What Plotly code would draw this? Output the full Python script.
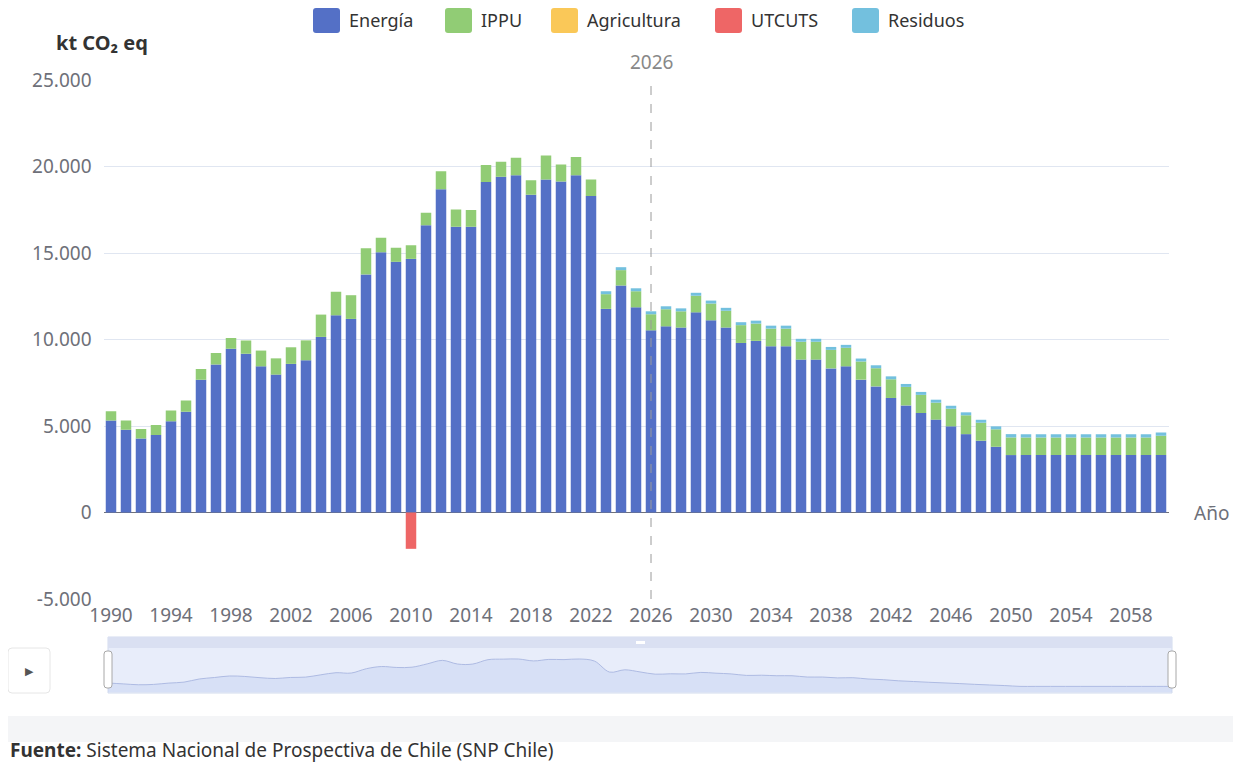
import plotly.graph_objects as go

years = list(range(1990, 2061))

energia = [5320, 4790, 4280, 4480, 5270, 5830, 7680, 8550, 9460, 9180,
           8450, 7970, 8590, 8800, 10150, 11400, 11190, 13760, 15050, 14490,
           14660, 16610, 18680, 16520, 16520, 19100, 19410, 19500, 18370, 19250,
           19140, 19500, 18290, 11770, 13120, 11860, 10530, 10760, 10690, 11570,
           11110, 10690, 9800, 9920, 9610, 9610, 8840, 8840, 8330, 8450,
           7680, 7290, 6620, 6190, 5750, 5370, 4980, 4530, 4150, 3800,
           3320, 3320, 3320, 3320, 3320, 3320, 3320, 3320, 3320, 3320, 3320]

ippu = [530, 530, 550, 580, 630, 650, 620, 670, 630, 760,
        910, 940, 960, 1150, 1290, 1360, 1370, 1520, 830, 810,
        790, 720, 1050, 1000, 960, 980, 870, 1010, 840, 1390,
        980, 1050, 960, 850, 890, 930, 930, 990, 940, 960,
        970, 970, 1030, 1000, 1020, 1020, 1030, 1030, 1070, 1070,
        1050, 1050, 1080, 1070, 1050, 980, 1020, 1090, 1040, 1010,
        1020, 1020, 1020, 1020, 1020, 1020, 1020, 1020, 1020, 1020, 1120]

agricultura = [0] * 71

utcuts = [0, 0, 0, 0, 0, 0, 0, 0, 0, 0,
          0, 0, 0, 0, 0, 0, 0, 0, 0, 0,
          -2100, 0, 0, 0, 0, 0, 0, 0, 0, 0,
          0, 0, 0, 0, 0, 0, 0, 0, 0, 0,
          0, 0, 0, 0, 0, 0, 0, 0, 0, 0,
          0, 0, 0, 0, 0, 0, 0, 0, 0, 0,
          0, 0, 0, 0, 0, 0, 0, 0, 0, 0, 0]

residuos = [0, 0, 0, 0, 0, 0, 0, 0, 0, 0,
            0, 0, 0, 0, 0, 0, 0, 0, 0, 0,
            0, 0, 0, 0, 0, 0, 0, 0, 0, 0,
            0, 0, 0, 170, 170, 170, 170, 170, 170, 170,
            170, 170, 170, 170, 170, 170, 170, 170, 170, 170,
            170, 170, 170, 170, 170, 170, 170, 170, 170, 170,
            190, 190, 190, 190, 190, 190, 190, 190, 190, 190, 190]

series_names = ["Energía", "IPPU", "Agricultura", "UTCUTS", "Residuos"]
series_colors = ["#5470c6", "#91cc75", "#fac858", "#ee6666", "#73c0de"]
series_values = [energia, ippu, agricultura, utcuts, residuos]

x_tick_years = list(range(1990, 2060, 4))
y_tick_vals = [-5000, 0, 5000, 10000, 15000, 20000, 25000]
y_tick_text = ["-5.000", "0", "5.000", "10.000", "15.000", "20.000", "25.000"]
marker_year = 2026

# page has an 8px body margin: lay out in page pixels, convert to paper coords
OFF = 8
W, H = 1241 - OFF, 767 - OFF
def px(x):
    return (x - OFF) / W
def py(y):
    return 1 - (y - OFF) / H

FONT = "Noto Sans"
AXIS_COLOR = "#6e7079"
fig = go.Figure()

for name, color, vals in zip(series_names, series_colors, series_values):
    fig.add_trace(go.Bar(x=years, y=vals, name=name, marker_color=color,
                         marker_line_width=0, xaxis="x", yaxis="y", showlegend=False))

# data zoom shadow
fig.add_trace(go.Scatter(x=years, y=energia, mode="lines", fill="tozeroy",
                         line=dict(color="#aebbe3", width=1, shape="spline"),
                         fillcolor="rgba(196,208,242,0.45)",
                         xaxis="x2", yaxis="y2", showlegend=False, hoverinfo="skip"))

shapes = []
annotations = []

legend_x = [313, 445, 551, 715, 852]
def round_rect(x0, y0, x1, y1, r):
    X0, X1 = px(x0), px(x1)
    Y0, Y1 = py(y0), py(y1)
    rx, ry = r / W, r / H
    return (f"M {X0+rx},{Y0} L {X1-rx},{Y0} Q {X1},{Y0} {X1},{Y0-ry} "
            f"L {X1},{Y1+ry} Q {X1},{Y1} {X1-rx},{Y1} L {X0+rx},{Y1} "
            f"Q {X0},{Y1} {X0},{Y1+ry} L {X0},{Y0-ry} Q {X0},{Y0} {X0+rx},{Y0} Z")
for lx, name, color in zip(legend_x, series_names, series_colors):
    shapes.append(dict(type="path", xref="paper", yref="paper",
                       path=round_rect(lx, 8, lx + 27, 33, 3),
                       fillcolor=color, line=dict(width=0)))
    annotations.append(dict(text=name, xref="paper", yref="paper", x=px(lx + 34), y=py(20),
                            xanchor="left", yanchor="middle", showarrow=False,
                            font=dict(size=18, color="#333333", family=FONT)))

# slider frame
shapes.append(dict(type="rect", xref="paper", yref="paper", x0=px(108), x1=px(1172),
                   y0=py(693), y1=py(637), fillcolor="#e8edfa", line=dict(color="#d2dbee", width=1),
                   layer="below"))
shapes.append(dict(type="rect", xref="paper", yref="paper", x0=px(108), x1=px(1172),
                   y0=py(648), y1=py(637), fillcolor="#dae0f2", line=dict(width=0), layer="below"))
shapes.append(dict(type="rect", xref="paper", yref="paper", x0=px(636), x1=px(645),
                   y0=py(644), y1=py(641), fillcolor="#ffffff", line=dict(width=0)))
for hx in (108, 1172):
    shapes.append(dict(type="path", xref="paper", yref="paper",
                       path=round_rect(hx - 4, 651, hx + 4, 688, 3),
                       fillcolor="#ffffff", line=dict(color="#a8a8a8", width=1)))
# play button
shapes.append(dict(type="path", xref="paper", yref="paper",
                   path=round_rect(8, 648, 50, 693, 4),
                   fillcolor="#ffffff", line=dict(color="#e6e6e6", width=1)))
# footer band
shapes.append(dict(type="rect", xref="paper", yref="paper", x0=0, x1=1,
                   y0=py(742), y1=py(716), fillcolor="#f4f5f7", line=dict(width=0), layer="below"))
# marker line
shapes.append(dict(type="line", xref="x", yref="paper", x0=marker_year, x1=marker_year,
                   y0=py(599), y1=py(84), line=dict(color="#9a9a9a", width=1, dash="dash")))

annotations += [
    dict(text="<b>kt CO₂ eq</b>", xref="paper", yref="paper", x=px(54), y=py(42),
         xanchor="left", yanchor="middle", showarrow=False,
         font=dict(size=20, color="#333333", family=FONT)),
    dict(text=str(marker_year), xref="x", yref="paper", x=marker_year, y=py(62),
         xanchor="center", yanchor="middle", showarrow=False,
         font=dict(size=19, color="#888888", family=FONT)),
    dict(text="Año", xref="paper", yref="y", x=px(1192), y=0,
         xanchor="left", yanchor="middle", showarrow=False,
         font=dict(size=19, color=AXIS_COLOR, family=FONT)),
    dict(text="▶", xref="paper", yref="paper", x=px(29), y=py(671),
         xanchor="center", yanchor="middle", showarrow=False,
         font=dict(size=11, color="#555555", family="DejaVu Sans")),
    dict(text="<b>Fuente:</b> Sistema Nacional de Prospectiva de Chile (SNP Chile)",
         xref="paper", yref="paper", x=px(8), y=py(750), xanchor="left", yanchor="middle",
         showarrow=False, font=dict(size=19, color="#333333", family=FONT)),
]

fig.update_layout(
    width=W, height=H, autosize=False,
    margin=dict(l=0, r=0, t=0, b=0, pad=0),
    paper_bgcolor="#ffffff", plot_bgcolor="rgba(0,0,0,0)",
    barmode="relative", bargap=0.3,
    font=dict(family=FONT, color=AXIS_COLOR, size=16),
    separators=",.",
    showlegend=False,
    xaxis=dict(domain=[px(103.5), px(1168.5)], range=[1989.5, 2060.5],
               tickmode="array", tickvals=x_tick_years, ticktext=[str(v) for v in x_tick_years],
               showgrid=False, zeroline=False, showline=False, ticks="",
               ticklabelstandoff=3,
               tickfont=dict(size=19, color=AXIS_COLOR, family=FONT),
               anchor="y", automargin=False, fixedrange=True),
    yaxis=dict(domain=[py(599), py(80)], range=[-5000, 25000],
               tickmode="array", tickvals=y_tick_vals, ticktext=y_tick_text,
               showgrid=True, gridcolor="#e0e6f1", gridwidth=1,
               zeroline=True, zerolinecolor=AXIS_COLOR, zerolinewidth=1,
               showline=False, ticks="", ticklabelstandoff=11,
               tickfont=dict(size=19, color=AXIS_COLOR, family=FONT),
               anchor="x", automargin=False, fixedrange=True),
    xaxis2=dict(domain=[px(108), px(1172)], range=[1990, 2060], visible=False,
                anchor="y2", fixedrange=True),
    yaxis2=dict(domain=[py(692), py(648)], range=[0, 26000], visible=False,
                anchor="x2", fixedrange=True),
    shapes=shapes,
    annotations=annotations,
)

fig.write_html("out.html")
